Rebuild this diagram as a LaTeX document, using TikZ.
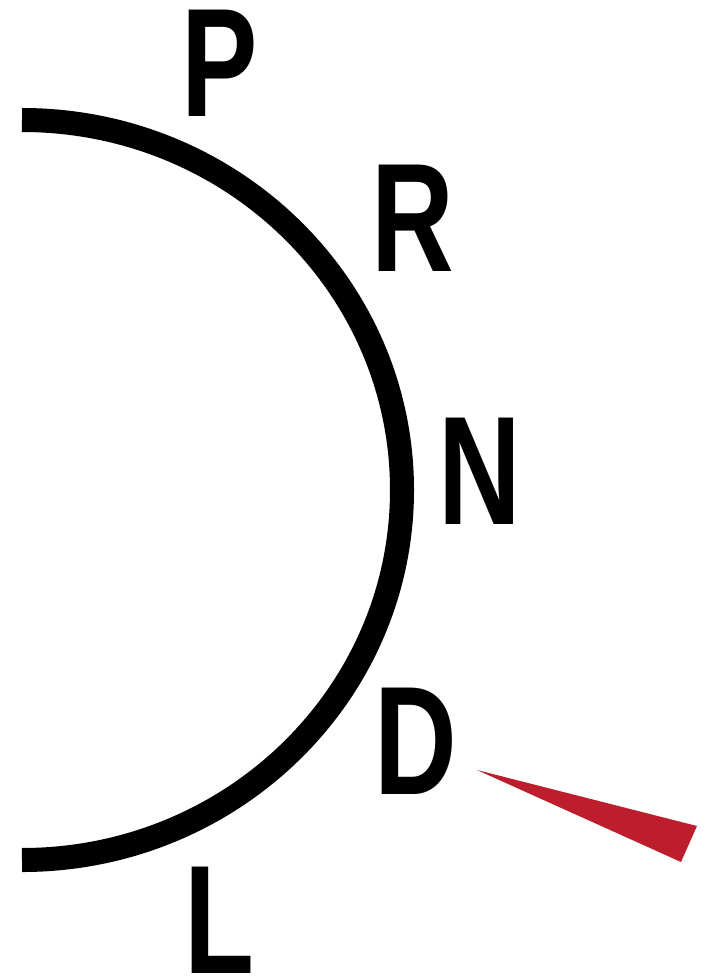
\documentclass[tikz,border=0pt]{standalone}
\usepackage{fontspec}
\setmainfont{Liberation Sans}
\usetikzlibrary{positioning}
\definecolor{DialBlack}{RGB}{0,0,0}
\definecolor{PointerRed}{RGB}{188,30,46}
\tikzset{
  gearlbl/.style={inner sep=0pt,text depth=0pt,text=DialBlack,
    font=\fontsize{44}{44}\selectfont\bfseries,xscale=0.74,transform shape},
  dial/.style={line width=0.24cm,draw=DialBlack},
  pointer/.style={fill=PointerRed,draw=none}
}
\begin{document}
\begin{tikzpicture}[x=0.01cm,y=0.01cm]
  \useasboundingbox (0,0) rectangle (713,-979);
  \draw[dial] (22,-120) arc[start angle=90,end angle=-90,x radius=380,y radius=370];
  \node[gearlbl] (P) at (220,-63) {P};
  \node[gearlbl] (R) at (413,-218) {R};
  \node[gearlbl] (N) at (480,-471) {N};
  \node[gearlbl] (D) at (416,-741) {D};
  \node[gearlbl] (L) at (219,-920) {L};
  \fill[pointer] (477,-770) -- (697,-826) -- (681,-862) -- cycle;
\end{tikzpicture}
\end{document}
